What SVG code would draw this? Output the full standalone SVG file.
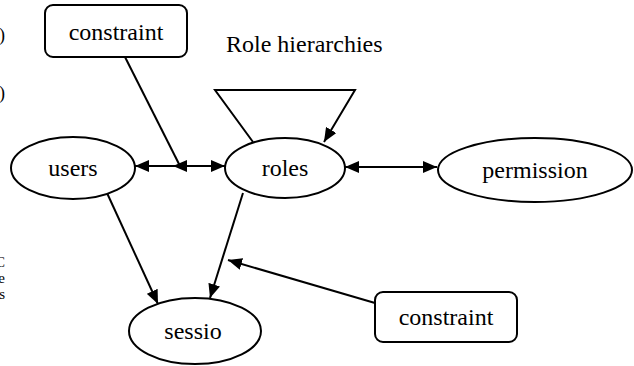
<svg xmlns="http://www.w3.org/2000/svg" width="634" height="366" viewBox="0 0 634 366">
<style>
.t{font-family:'Liberation Serif','Times New Roman',serif;font-size:24px;fill:#000}
.n{fill:#fff;stroke:#000;stroke-width:2}
.c{fill:none;stroke:#000;stroke-width:2}
.m{text-anchor:middle}
.f{font-size:18px}
.g{font-size:15px;text-anchor:end}
</style>
<defs>
<marker id="ah" viewBox="0 0 14 12" refX="14" refY="6" markerWidth="14" markerHeight="12" markerUnits="userSpaceOnUse" orient="auto-start-reverse">
<path d="M0,0 L14,6 L0,12 Z" fill="#000"/>
</marker>
</defs>
<rect width="634" height="366" fill="#fff"/>
<g id="fragments">
<text class="t f" x="-1" y="41">)</text>
<text class="t f" x="-1" y="99">)</text>
<text class="t g" x="5" y="267">C</text>
<text class="t g" x="5" y="283">e</text>
<text class="t g" x="5" y="299">s</text>
</g>
<g id="label-role-hierarchies"><text class="t" x="226" y="52">Role hierarchies</text></g>
<g id="connectors">
<path class="c" d="M125,57 L180,166"/>
<path class="c" d="M180,166 L135,166" marker-end="url(#ah)"/>
<path class="c" d="M187,166 L173,166" marker-end="url(#ah)"/>
<path class="c" d="M180,166 L225,166" marker-end="url(#ah)"/>
<path class="c" d="M345,167 L437,167" marker-start="url(#ah)" marker-end="url(#ah)"/>
<path class="c" d="M253,142 L215,90 L355,90 L324,142" marker-end="url(#ah)"/>
<path class="c" d="M107,193 L158,304" marker-end="url(#ah)"/>
<path class="c" d="M243,193 L210,298" marker-end="url(#ah)"/>
<path class="c" d="M375,303 L228,260" marker-end="url(#ah)"/>
</g>
<g id="constraint-top"><rect class="n" x="45" y="5" width="142" height="52" rx="8"/><text class="t m" x="116" y="40">constraint</text></g>
<g id="users"><ellipse class="n" cx="73" cy="168" rx="62" ry="31"/><text class="t m" x="73" y="176">users</text></g>
<g id="roles"><ellipse class="n" cx="285" cy="168" rx="60" ry="30"/><text class="t m" x="285" y="176">roles</text></g>
<g id="permission"><ellipse class="n" cx="535" cy="170" rx="97" ry="32"/><text class="t m" x="535" y="178">permission</text></g>
<g id="sessio"><ellipse class="n" cx="195" cy="331" rx="66" ry="33"/><text class="t m" x="193" y="339">sessio</text></g>
<g id="constraint-bottom"><rect class="n" x="375" y="292" width="142" height="50" rx="8"/><text class="t m" x="446" y="325">constraint</text></g>
</svg>
